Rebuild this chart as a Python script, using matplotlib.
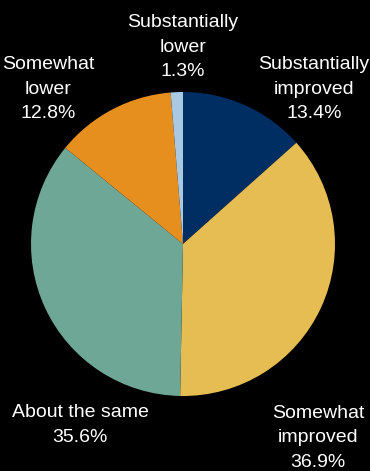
"""
Pie chart: expected change, shares of respondents
"""
import matplotlib
matplotlib.use("Agg")
import matplotlib.pyplot as plt

categories = ["Substantially improved", "Somewhat improved", "About the same",
              "Somewhat lower", "Substantially lower"]
shares = [13.4, 36.9, 35.6, 12.8, 1.3]
label_text = ["Substantially\nimproved", "Somewhat\nimproved", "About the same",
              "Somewhat\nlower", "Substantially\nlower"]
colors = ["#002d62", "#e6bd52", "#6fa797", "#e68f1f", "#a9c8e2"]

# label anchor positions in pixels (x, y from top)
label_pos = [(314, 89), (318, 438), (80, 425), (48, 89), (183, 47)]

W, H = 370, 471

plt.rcParams["font.family"] = ["Liberation Sans", "DejaVu Sans"]

fig = plt.figure(figsize=(W / 100, H / 100), dpi=100, facecolor="black")
ax = fig.add_axes([0, 0, 1, 1])
ax.set_facecolor("black")

ax.pie(shares, colors=colors, startangle=90, counterclock=False,
       center=(183, H - 244), radius=152, frame=True,
       wedgeprops=dict(linewidth=0))
ax.set_xlim(0, W)
ax.set_ylim(0, H)
ax.set_aspect("equal")
ax.axis("off")

for txt, val, (x, y) in zip(label_text, shares, label_pos):
    ax.text(x, H - y, f"{txt}\n{val:.1f}%", color="white", fontsize=14,
            ha="center", va="center", linespacing=1.58)

fig.savefig("out.png", dpi=100, facecolor="black")
plt.close(fig)
